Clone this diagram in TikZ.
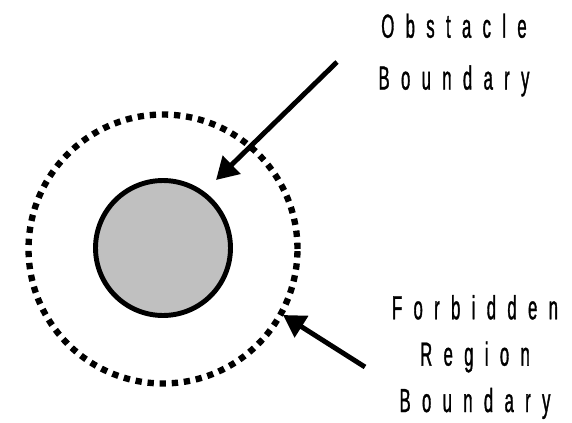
\documentclass[tikz,border=0pt]{standalone}
\usepackage{fontspec}
\newfontfamily\lblfont[FakeStretch=0.5,LetterSpace=34,FakeBold=1]{Liberation Sans}
\usetikzlibrary{arrows.meta}

\begin{document}
\begin{tikzpicture}[
    x=0.02cm, y=-0.02cm,
    obst/.style={circle, draw, line width=2.8pt, fill={rgb,255:red,192;green,192;blue,192}, minimum size=2.70cm, inner sep=0pt},
    forbid/.style={circle, draw, line width=3.6pt, dash pattern=on 3.6pt off 3.3pt, minimum size=5.38cm, inner sep=0pt},
    pointer/.style={line width=2.8pt, -{Triangle[length=12.5pt, width=14pt]}},
    lbl/.style={align=center, inner sep=0pt},
]
\useasboundingbox (0,0) rectangle (572,423);

% Obstacle and the region around it
\node[forbid] (region) at (163,249) {};
\node[obst] (obstacle) at (163,248) {};

% Labels
\node[lbl, font=\lblfont\fontsize{19}{29.5}\selectfont] (obstlbl) at (454,55) {Obstacle\\Boundary};
\node[lbl, font=\lblfont\fontsize{19}{26.4}\selectfont] (regionlbl) at (475,357) {Forbidden\\Region\\Boundary};

% Arrows pointing at the boundaries
\coordinate (obsttail) at (337,62);
\coordinate (obsttip) at (216,180);
\coordinate (regiontail) at (365,367);
\coordinate (regiontip) at (283,315);
\draw[pointer] (obsttail) -- (obsttip);
\draw[pointer] (regiontail) -- (regiontip);

\end{tikzpicture}
\end{document}
